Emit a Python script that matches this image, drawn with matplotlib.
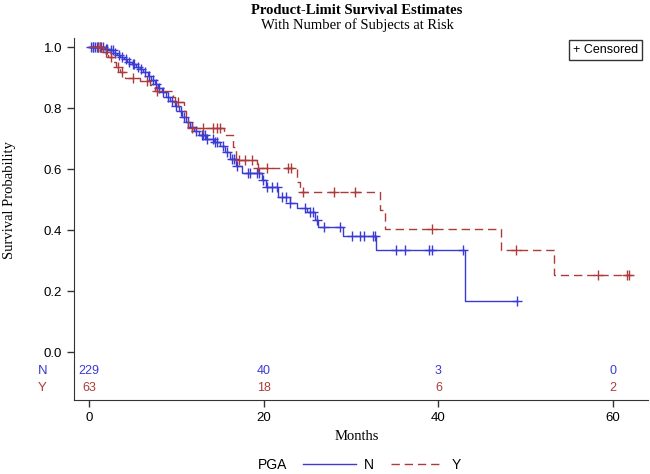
import numpy as np
import matplotlib
matplotlib.use("Agg")
import matplotlib.pyplot as plt
from matplotlib.lines import Line2D

plt.rcParams["font.family"] = ["Liberation Sans", "DejaVu Sans"]

# Kaplan-Meier steps: (month, survival after the drop)
n_times = [1.8, 2.3, 2.8, 3.2, 3.6, 4.0, 4.4, 4.9, 5.4, 5.8, 6.2, 6.7, 7.1, 7.5,
           7.9, 8.3, 8.8, 9.3, 9.8, 10.3, 10.7, 11.1, 11.6, 12.0, 12.6, 13.4,
           14.3, 15.0, 15.6, 16.1, 16.8, 17.5, 19.8, 20.3, 21.6, 23.0, 23.8,
           25.0, 25.9, 26.2, 29.1, 32.9, 43.1]
n_surv = [0.995, 0.990, 0.982, 0.975, 0.968, 0.960, 0.952, 0.945, 0.936, 0.928,
          0.918, 0.905, 0.892, 0.878, 0.865, 0.852, 0.838, 0.822, 0.806, 0.790,
          0.772, 0.755, 0.738, 0.725, 0.712, 0.700, 0.690, 0.675, 0.655, 0.632,
          0.610, 0.588, 0.564, 0.540, 0.508, 0.490, 0.472, 0.459, 0.433, 0.410,
          0.380, 0.334, 0.167]
n_end = 49.0
n_censor = [0.2, 0.4, 0.5, 0.7, 0.9, 1.0, 1.2, 1.4, 1.6, 1.9, 2.1, 2.5, 2.7,
            3.0, 3.4, 3.8, 4.2, 4.6, 5.0, 5.2, 5.6, 6.0, 6.4, 6.9, 7.3, 7.7,
            8.0, 8.5, 9.0, 9.5, 10.0, 10.5, 10.9, 11.3, 11.8, 12.2, 12.9, 13.1,
            13.3, 13.5, 14.2, 14.4, 14.6, 15.3, 15.8, 16.4, 16.6, 16.9, 18.2,
            18.4, 19.2, 19.5, 19.9, 20.4, 21.0, 21.5, 22.1, 22.5, 23.0, 24.7,
            25.3, 25.6, 26.1, 26.9, 28.7, 30.1, 31.0, 31.5, 32.5, 32.8, 35.2,
            36.2, 38.9, 39.3, 42.8, 49.0]

y_times = [1.6, 2.2, 2.7, 3.1, 3.6, 4.1, 5.8, 7.0, 7.5, 9.6, 9.9, 10.9, 11.1,
           11.3, 15.4, 16.5, 16.8, 19.2, 23.8, 24.2, 33.3, 33.9, 47.2, 53.2]
y_surv = [0.984, 0.968, 0.952, 0.935, 0.918, 0.898, 0.890, 0.875, 0.855, 0.838,
          0.820, 0.790, 0.760, 0.734, 0.711, 0.672, 0.630, 0.603, 0.557, 0.525,
          0.466, 0.405, 0.334, 0.252]
y_end = 61.8
y_censor = [1.0, 1.3, 2.0, 2.5, 3.3, 3.8, 5.0, 6.6, 7.8, 10.2, 11.8, 13.0, 14.2,
            14.6, 15.0, 17.2, 17.9, 18.7, 19.4, 20.4, 22.8, 23.1, 24.5, 28.0,
            30.5, 39.3, 48.9, 58.3, 61.6, 61.8]

risk_times = [0, 20, 40, 60]
n_risk = [229, 40, 3, 0]
y_risk = [63, 18, 6, 2]

blue = "#3a3ad4"
red = "#ad3b3b"


def km_curve(times, surv, end):
    t = np.array([0.0] + list(times) + [end])
    s = np.array([1.0] + list(surv) + [surv[-1]])
    return t, s


def surv_at(t, times, surv):
    s = np.array([1.0] + list(surv))
    idx = np.searchsorted(np.array(times), t, side="right")
    return s[idx]


fig = plt.figure(figsize=(6.5, 4.74), dpi=100)
ax = fig.add_axes([74 / 650, 74 / 474, 574 / 650, 362 / 474])

t, s = km_curve(n_times, n_surv, n_end)
ax.step(t, s, where="post", color=blue, lw=1.0)
ax.plot(n_censor, surv_at(n_censor, n_times, n_surv), ls="none", marker="+",
        ms=7, mew=1.0, color=blue)

t, s = km_curve(y_times, y_surv, y_end)
ln, = ax.step(t, s, where="post", color=red, lw=1.0)
ln.set_dashes((6, 3.5))
ax.plot(y_censor, surv_at(y_censor, y_times, y_surv), ls="none", marker="+",
        ms=7, mew=1.0, color=red)

# at-risk rows inside the plot area
for xt, a, b in zip(risk_times, n_risk, y_risk):
    ax.text(xt, -0.062, str(a), color=blue, ha="center", va="center", fontsize=9)
    ax.text(xt, -0.118, str(b), color=red, ha="center", va="center", fontsize=9)
ax.text(-0.055, -0.062, "N", color=blue, ha="center", va="center", fontsize=9.5,
        transform=ax.get_yaxis_transform())
ax.text(-0.055, -0.118, "Y", color=red, ha="center", va="center", fontsize=9.5,
        transform=ax.get_yaxis_transform())

ax.set_xlim(-1.72, 64.0)
ax.set_ylim(-0.157, 1.03)
ax.set_xticks([0, 20, 40, 60])
ax.set_yticks([0.0, 0.2, 0.4, 0.6, 0.8, 1.0])
ax.set_yticklabels(["0.0", "0.2", "0.4", "0.6", "0.8", "1.0"])
ax.tick_params(labelsize=9.5, length=5, width=1, color="#333333")
ax.spines["top"].set_visible(False)
ax.spines["right"].set_visible(False)
for sp in ("left", "bottom"):
    ax.spines[sp].set_color("#333333")

ax.text(0.983, 0.983, "+ Censored", transform=ax.transAxes, ha="right",
        va="top", fontsize=9,
        bbox=dict(boxstyle="square,pad=0.3", fc="white", ec="#333333", lw=1))

serif = ["Liberation Serif", "DejaVu Serif"]
fig.text(357 / 650, 1 - 10 / 474, "Product-Limit Survival Estimates",
         ha="center", va="center", fontsize=10.5, fontweight="bold", family=serif)
fig.text(357 / 650, 1 - 25 / 474, "With Number of Subjects at Risk",
         ha="center", va="center", fontsize=10.5, family=serif)
fig.text(10 / 650, 1 - 200 / 474, "Survival Probability", rotation=90,
         ha="center", va="center", fontsize=10.5, family=serif)
fig.text(357 / 650, 1 - 436 / 474, "Months", ha="center", va="center",
         fontsize=10.5, family=serif)

handles = [Line2D([], [], color=blue, lw=1.0),
           Line2D([], [], color=red, lw=1.0, dashes=(6, 3.5))]
fig.text(258 / 650, 1 - 465 / 474, "PGA", ha="left", va="center", fontsize=10)
fig.legend(handles, ["N", "Y"], loc="center", bbox_to_anchor=(382 / 650, 1 - 465 / 474),
           ncol=2, frameon=False, fontsize=10, handlelength=3.8, handletextpad=0.6,
           columnspacing=1.2)

fig.savefig("out.png", dpi=100)
